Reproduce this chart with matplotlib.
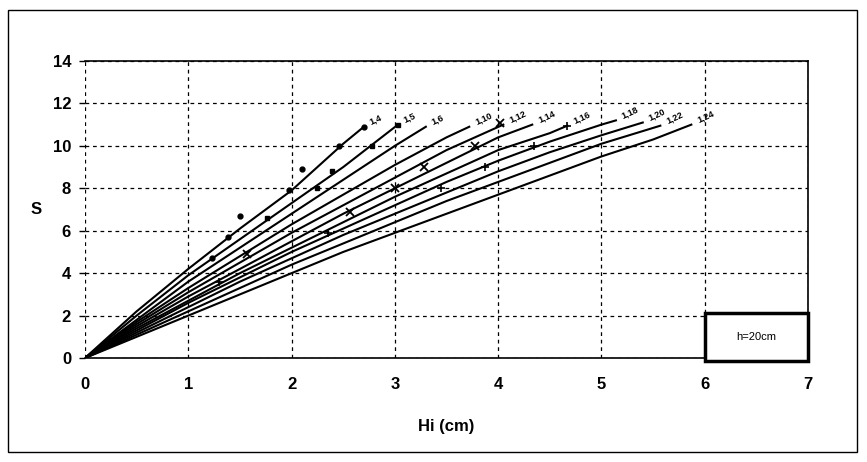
import matplotlib.pyplot as plt
from matplotlib.patches import Rectangle

plt.rcParams["font.family"] = ["Liberation Sans", "DejaVu Sans"]

# S against Hi for h = 20 cm, one fitted curve per slope ratio
hi_1_4 = [0, 0.5, 1.0, 1.5, 2.0, 2.5, 2.7]
s_1_4 = [0, 2.2, 4.2, 6.1, 7.9, 10.1, 10.9]
hi_1_5 = [0, 0.5, 1.0, 1.5, 2.0, 2.5, 3.03]
s_1_5 = [0, 2.0, 3.9, 5.6, 7.3, 9.0, 11.0]
hi_1_6 = [0, 0.5, 1.0, 1.5, 2.0, 2.5, 3.0, 3.3]
s_1_6 = [0, 1.8, 3.6, 5.2, 6.8, 8.4, 10.0, 10.9]
hi_1_10 = [0, 0.5, 1.0, 1.5, 2.0, 2.5, 3.0, 3.5, 3.72]
s_1_10 = [0, 1.7, 3.3, 4.8, 6.3, 7.7, 9.1, 10.4, 10.9]
hi_1_12 = [0, 0.5, 1.0, 1.5, 2.0, 2.5, 3.0, 3.5, 4.05]
s_1_12 = [0, 1.6, 3.1, 4.5, 5.9, 7.2, 8.5, 9.8, 11.0]
hi_1_14 = [0, 0.5, 1.0, 1.5, 2.0, 2.5, 3.0, 3.5, 4.0, 4.33]
s_1_14 = [0, 1.5, 2.9, 4.2, 5.5, 6.8, 8.0, 9.2, 10.4, 11.0]
hi_1_16 = [0, 0.5, 1.0, 1.5, 2.0, 2.5, 3.0, 3.5, 4.0, 4.5, 4.67]
s_1_16 = [0, 1.4, 2.7, 4.0, 5.2, 6.4, 7.6, 8.7, 9.8, 10.6, 10.95]
hi_1_18 = [0, 0.5, 1.0, 1.5, 2.0, 2.5, 3.0, 3.5, 4.0, 4.5, 5.0, 5.14]
s_1_18 = [0, 1.3, 2.6, 3.8, 5.0, 6.1, 7.2, 8.3, 9.3, 10.2, 11.0, 11.2]
hi_1_20 = [0, 0.5, 1.0, 1.5, 2.0, 2.5, 3.0, 3.5, 4.0, 4.5, 5.0, 5.4]
s_1_20 = [0, 1.2, 2.4, 3.6, 4.7, 5.8, 6.8, 7.8, 8.8, 9.7, 10.5, 11.1]
hi_1_22 = [0, 0.5, 1.0, 1.5, 2.0, 2.5, 3.0, 3.5, 4.0, 4.5, 5.0, 5.57]
s_1_22 = [0, 1.1, 2.2, 3.3, 4.4, 5.4, 6.4, 7.4, 8.3, 9.2, 10.1, 10.95]
hi_1_24 = [0, 0.5, 1.0, 1.5, 2.0, 2.5, 3.0, 3.5, 4.0, 4.5, 5.0, 5.5, 5.87]
s_1_24 = [0, 1.0, 2.0, 3.0, 4.0, 5.0, 5.9, 6.8, 7.7, 8.6, 9.5, 10.3, 11.0]

curve_labels = ["1,4", "1,5", "1,6", "1,10", "1,12", "1,14",
                "1,16", "1,18", "1,20", "1,22", "1,24"]

# measured points
dots_hi = [1.23, 1.38, 1.5, 1.98, 2.1, 2.46, 2.7]
dots_s = [4.7, 5.7, 6.7, 7.9, 8.9, 10.0, 10.9]
squares_hi = [1.76, 2.25, 2.39, 2.78, 3.03]
squares_s = [6.6, 8.0, 8.8, 10.0, 11.0]
crosses_hi = [1.57, 2.57, 3.0, 3.28, 3.78, 4.02]
crosses_s = [4.9, 6.9, 8.0, 9.0, 10.0, 11.1]
plus_hi = [1.3, 2.35, 3.45, 3.87, 4.35, 4.67]
plus_s = [3.6, 5.9, 8.0, 9.0, 10.0, 10.95]

curves = [
    (hi_1_4, s_1_4), (hi_1_5, s_1_5), (hi_1_6, s_1_6), (hi_1_10, s_1_10),
    (hi_1_12, s_1_12), (hi_1_14, s_1_14), (hi_1_16, s_1_16),
    (hi_1_18, s_1_18), (hi_1_20, s_1_20), (hi_1_22, s_1_22),
    (hi_1_24, s_1_24),
]

fig = plt.figure(figsize=(8.67, 4.62), dpi=100)
ax = fig.add_axes([0.098, 0.225, 0.834, 0.643])

for (hx, sy), lab in zip(curves, curve_labels):
    ax.plot(hx, sy, color="black", lw=1.5, zorder=3)
    ax.annotate(lab, (hx[-1], sy[-1]), xytext=(3, 0), textcoords="offset points",
                fontsize=6.5, fontweight="bold", rotation=25, va="bottom", ha="left")

ax.plot(dots_hi, dots_s, "o", color="black", ms=3.5, zorder=4)
ax.plot(squares_hi, squares_s, "s", color="black", ms=3, zorder=4)
ax.plot(crosses_hi, crosses_s, "x", color="black", ms=6, mew=1.3, zorder=4)
ax.plot(plus_hi, plus_s, "+", color="black", ms=6, mew=1.2, zorder=4)

ax.set_xlim(0, 7)
ax.set_ylim(0, 14)
ax.set_xticks(range(0, 8))
ax.set_yticks(range(0, 15, 2))
ax.grid(True, color="black", ls=(0, (3, 3)), lw=0.9)
ax.set_axisbelow(True)

ax.spines["left"].set_visible(False)
for side in ["top", "right", "bottom"]:
    ax.spines[side].set_linewidth(1.2)

ax.tick_params(axis="y", length=4, width=1, pad=6, labelsize=12)
ax.tick_params(axis="x", length=0, pad=14, labelsize=12)
for lbl in ax.get_xticklabels() + ax.get_yticklabels():
    lbl.set_fontweight("bold")

ax.set_xlabel("Hi (cm)", fontsize=12, fontweight="bold", labelpad=19)
ax.set_ylabel("S", fontsize=12, fontweight="bold", rotation=0, labelpad=12, va="center")

# case box
ax.add_patch(Rectangle((6.0, -0.15), 1.0, 2.25, facecolor="white", edgecolor="black",
                       lw=2.5, zorder=5, clip_on=False))
ax.text(6.5, 0.97, "h=20cm", fontsize=8, ha="center", va="center", zorder=6)

# chart border
fig.patches.append(Rectangle((0.009, 0.022), 0.98, 0.957, transform=fig.transFigure,
                             fill=False, edgecolor="black", lw=1))

fig.savefig("out.png", dpi=100)
